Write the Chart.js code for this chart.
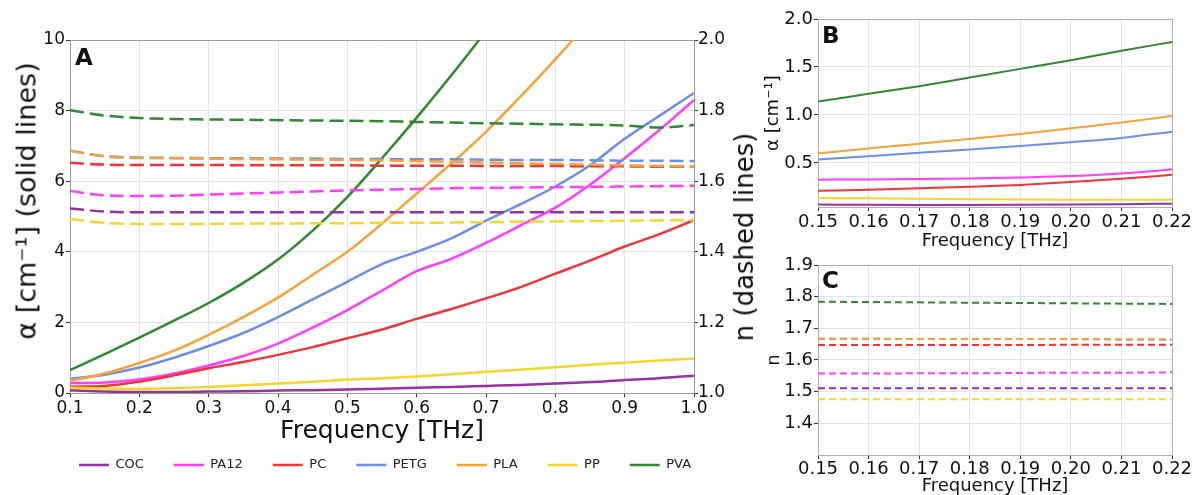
<!DOCTYPE html>
<html>
<head>
<meta charset="utf-8">
<script src="https://cdn.jsdelivr.net/npm/chart.js@4"></script>
<style>
  body { margin: 0; background: #fff; width: 1194px; height: 495px; overflow: hidden; position: relative; font-family: 'DejaVu Sans', sans-serif; color: #111; }
  canvas { position: absolute; }
  #chartA { left: 0; top: 0; }
  #chartB { left: 760px; top: 0; }
  #chartC { left: 760px; top: 250px; }
  .panel { position: absolute; font-weight: bold; font-size: 23px; line-height: 23px; }
  .vtitle { position: absolute; white-space: nowrap; transform: translate(-50%, -50%) rotate(-90deg); }
  #alphaTitle { left: 26px; top: 201px; font-size: 27px; }
  #nTitle { left: 744px; top: 237px; font-size: 26px; }
</style>
</head>
<body>
<canvas id="chartA" width="770" height="495"></canvas>
<canvas id="chartB" width="434" height="260"></canvas>
<canvas id="chartC" width="434" height="245"></canvas>
<div class="panel" style="left:75px;top:46px">A</div>
<div class="panel" style="left:822px;top:24px">B</div>
<div class="panel" style="left:822px;top:269px">C</div>
<div class="vtitle" id="alphaTitle">α [cm⁻¹] (solid lines)</div>
<div class="vtitle" id="nTitle">n (dashed lines)</div>
<script>
// materials and their colours
const materials = ['COC', 'PA12', 'PC', 'PETG', 'PLA', 'PP', 'PVA'];
const colors = ['#9a30a2', '#ff3cff', '#f23434', '#6a8fe8', '#f8a134', '#f8d52a', '#2e8a2e'];

// panel A: 0.1 - 1.0 THz
const freqA = [0.10, 0.15, 0.20, 0.25, 0.30, 0.35, 0.40, 0.45, 0.50, 0.55, 0.60, 0.65, 0.70, 0.75, 0.80, 0.85, 0.90, 0.95, 1.00];
const alphaCOC  = [0.08, 0.04, 0.03, 0.03, 0.04, 0.05, 0.07, 0.08, 0.10, 0.12, 0.15, 0.17, 0.20, 0.23, 0.27, 0.31, 0.37, 0.42, 0.49];
const alphaPA12 = [0.28, 0.30, 0.38, 0.55, 0.78, 1.05, 1.40, 1.85, 2.35, 2.90, 3.45, 3.80, 4.25, 4.75, 5.25, 5.90, 6.65, 7.45, 8.30];
const alphaPC   = [0.18, 0.20, 0.32, 0.50, 0.70, 0.88, 1.08, 1.30, 1.55, 1.80, 2.10, 2.38, 2.68, 3.00, 3.38, 3.75, 4.15, 4.50, 4.90];
const alphaPETG = [0.40, 0.52, 0.72, 1.00, 1.33, 1.70, 2.15, 2.65, 3.15, 3.65, 4.00, 4.38, 4.88, 5.35, 5.85, 6.45, 7.20, 7.85, 8.50];
const alphaPLA  = [0.35, 0.55, 0.85, 1.20, 1.65, 2.15, 2.70, 3.35, 4.00, 4.80, 5.65, 6.50, 7.40, 8.40, 9.45, 10.55];
const alphaPP   = [0.15, 0.13, 0.12, 0.14, 0.17, 0.22, 0.27, 0.32, 0.38, 0.42, 0.47, 0.53, 0.60, 0.66, 0.73, 0.80, 0.86, 0.92, 0.98];
const alphaPVA  = [0.65, 1.10, 1.57, 2.05, 2.55, 3.12, 3.78, 4.60, 5.55, 6.65, 7.80, 9.00, 10.25];

const nCOC  = [1.523, 1.514, 1.512, 1.512, 1.512, 1.512, 1.512, 1.512, 1.512, 1.512, 1.512, 1.512, 1.512, 1.512, 1.512, 1.512, 1.512, 1.512, 1.512];
const nPA12 = [1.572, 1.560, 1.558, 1.559, 1.562, 1.565, 1.568, 1.571, 1.574, 1.576, 1.578, 1.580, 1.581, 1.582, 1.583, 1.584, 1.585, 1.586, 1.587];
const nPC   = [1.652, 1.647, 1.646, 1.646, 1.646, 1.645, 1.645, 1.645, 1.645, 1.644, 1.644, 1.644, 1.643, 1.643, 1.643, 1.642, 1.642, 1.641, 1.641];
const nPETG = [1.686, 1.671, 1.667, 1.666, 1.665, 1.665, 1.664, 1.664, 1.663, 1.663, 1.662, 1.662, 1.661, 1.660, 1.660, 1.659, 1.658, 1.658, 1.657];
const nPLA  = [1.686, 1.670, 1.666, 1.665, 1.664, 1.663, 1.662, 1.661, 1.660, 1.659, 1.657, 1.655, 1.653, 1.651, 1.649, 1.647, 1.645, 1.643, 1.641];
const nPP   = [1.493, 1.482, 1.479, 1.479, 1.479, 1.480, 1.480, 1.481, 1.481, 1.482, 1.482, 1.483, 1.484, 1.485, 1.486, 1.487, 1.488, 1.489, 1.490];
const nPVA  = [1.801, 1.786, 1.779, 1.776, 1.775, 1.774, 1.773, 1.772, 1.771, 1.770, 1.768, 1.766, 1.764, 1.763, 1.761, 1.760, 1.758, 1.752, 1.759];

// panels B and C: 0.15 - 0.22 THz
const freqZoom = [0.15, 0.16, 0.17, 0.18, 0.19, 0.20, 0.21, 0.22];
const zoomAlphaCOC  = [0.065, 0.063, 0.062, 0.062, 0.063, 0.065, 0.069, 0.075];
const zoomAlphaPA12 = [0.325, 0.328, 0.332, 0.338, 0.348, 0.362, 0.390, 0.430];
const zoomAlphaPC   = [0.210, 0.220, 0.235, 0.250, 0.270, 0.300, 0.335, 0.375];
const zoomAlphaPETG = [0.535, 0.570, 0.605, 0.640, 0.675, 0.715, 0.760, 0.825];
const zoomAlphaPLA  = [0.600, 0.650, 0.700, 0.750, 0.800, 0.860, 0.920, 0.990];
const zoomAlphaPP   = [0.135, 0.130, 0.125, 0.122, 0.118, 0.116, 0.115, 0.115];
const zoomAlphaPVA  = [1.14, 1.22, 1.30, 1.39, 1.48, 1.57, 1.67, 1.76];

const zoomNCOC  = [1.511, 1.511, 1.511, 1.511, 1.511, 1.511, 1.511, 1.511];
const zoomNPA12 = [1.557, 1.557, 1.558, 1.558, 1.559, 1.560, 1.560, 1.561];
const zoomNPC   = [1.647, 1.647, 1.647, 1.647, 1.647, 1.648, 1.648, 1.648];
const zoomNPETG = [1.667, 1.667, 1.666, 1.666, 1.666, 1.666, 1.665, 1.665];
const zoomNPLA  = [1.667, 1.667, 1.666, 1.666, 1.666, 1.666, 1.665, 1.665];
const zoomNPP   = [1.476, 1.476, 1.476, 1.476, 1.476, 1.476, 1.476, 1.476];
const zoomNPVA  = [1.784, 1.783, 1.782, 1.781, 1.780, 1.779, 1.778, 1.777];

// tick values
const ticksFreqA = [0.1, 0.2, 0.3, 0.4, 0.5, 0.6, 0.7, 0.8, 0.9, 1.0];
const ticksAlphaA = [0, 2, 4, 6, 8, 10];
const ticksNA = [1.0, 1.2, 1.4, 1.6, 1.8, 2.0];
const ticksFreqZoom = [0.15, 0.16, 0.17, 0.18, 0.19, 0.20, 0.21, 0.22];
const ticksAlphaB = [0.5, 1.0, 1.5, 2.0];
const ticksNC = [1.4, 1.5, 1.6, 1.7, 1.8, 1.9];

const alphaA = [alphaCOC, alphaPA12, alphaPC, alphaPETG, alphaPLA, alphaPP, alphaPVA];
const nA = [nCOC, nPA12, nPC, nPETG, nPLA, nPP, nPVA];
const alphaB = [zoomAlphaCOC, zoomAlphaPA12, zoomAlphaPC, zoomAlphaPETG, zoomAlphaPLA, zoomAlphaPP, zoomAlphaPVA];
const nC = [zoomNCOC, zoomNPA12, zoomNPC, zoomNPETG, zoomNPLA, zoomNPP, zoomNPVA];

Chart.defaults.font.family = "'DejaVu Sans', sans-serif";
Chart.defaults.color = '#111';
Chart.defaults.animation = false;

const gridColor = '#dde4ec';
const tickColor = '#333';

function points(xs, ys) {
  return ys.map((y, i) => ({ x: xs[i], y: y }));
}
function setTicks(values) {
  return axis => { axis.ticks = values.map(v => ({ value: v })); };
}
// an empty axis that only draws a frame line
function frameAxis(position, min, max, color) {
  return {
    type: 'linear', position: position, min: min, max: max,
    ticks: { display: false },
    grid: { drawOnChartArea: false, drawTicks: false },
    border: { color: color },
    afterFit: axis => { if (axis.isHorizontal()) axis.height = 0; else axis.width = position === 'right' ? 22 : 0; }
  };
}

// Panel A
const datasetsA = [];
materials.forEach((m, i) => {
  datasetsA.push({
    label: m, data: points(freqA, alphaA[i]), yAxisID: 'y',
    borderColor: colors[i], backgroundColor: colors[i], borderWidth: 2.5,
    pointRadius: 0, cubicInterpolationMode: 'monotone', order: 100 - i
  });
});
materials.forEach((m, i) => {
  datasetsA.push({
    label: m + ' n', data: points(freqA, nA[i]), yAxisID: 'y1',
    borderColor: colors[i], backgroundColor: colors[i], borderWidth: 2.5, borderDash: [14, 6],
    pointRadius: 0, cubicInterpolationMode: 'monotone', order: 50 - i
  });
});

new Chart(document.getElementById('chartA'), {
  type: 'line',
  data: { datasets: datasetsA },
  options: {
    responsive: false, devicePixelRatio: 1,
    layout: { padding: { top: 40, bottom: 13.5, left: 0, right: 0 } },
    plugins: {
      tooltip: { enabled: false },
      legend: {
        position: 'bottom',
        labels: {
          usePointStyle: true, pointStyle: 'line', pointStyleWidth: 30,
          font: { size: 13 }, color: '#222', padding: 30,
          filter: item => item.datasetIndex < materials.length,
          sort: (a, b) => a.datasetIndex - b.datasetIndex
        }
      }
    },
    scales: {
      x: {
        type: 'linear', position: 'bottom', min: 0.1, max: 1.0,
        afterBuildTicks: setTicks(ticksFreqA),
        afterFit: axis => { axis.height = 35.5; },
        ticks: { callback: v => v.toFixed(1), font: { size: 17 }, padding: 1, maxRotation: 0, autoSkip: false },
        grid: { color: gridColor, tickColor: tickColor, tickLength: 4 },
        border: { color: '#999' },
        title: { display: true, text: 'Frequency [THz]', font: { size: 25 }, padding: { top: 0, bottom: -17.5 } }
      },
      xTop: frameAxis('top', 0.1, 1.0, '#999'),
      y: {
        type: 'linear', position: 'left', min: 0, max: 10,
        afterBuildTicks: setTicks(ticksAlphaA),
        afterFit: axis => { axis.width = 70; },
        ticks: { font: { size: 17 }, padding: 1 },
        grid: { color: gridColor, tickColor: tickColor, tickLength: 4 },
        border: { color: '#999' }
      },
      y1: {
        type: 'linear', position: 'right', min: 1.0, max: 2.0,
        afterBuildTicks: setTicks(ticksNA),
        afterFit: axis => { axis.width = 76; },
        ticks: { callback: v => v.toFixed(1), font: { size: 17 }, padding: 0 },
        grid: { drawOnChartArea: false, tickColor: tickColor, tickLength: 4 },
        border: { color: '#999' }
      }
    }
  }
});

// Panel B (absorption, zoom)
const datasetsB = materials.map((m, i) => ({
  label: m, data: points(freqZoom, alphaB[i]),
  borderColor: colors[i], borderWidth: 2, pointRadius: 0,
  cubicInterpolationMode: 'monotone', order: -i
}));

new Chart(document.getElementById('chartB'), {
  type: 'line',
  data: { datasets: datasetsB },
  options: {
    responsive: false, devicePixelRatio: 1,
    layout: { padding: { top: 19, bottom: 10, left: 0, right: 0 } },
    plugins: { legend: { display: false }, tooltip: { enabled: false } },
    scales: {
      x: {
        type: 'linear', position: 'bottom', min: 0.15, max: 0.22,
        afterBuildTicks: setTicks(ticksFreqZoom),
        afterFit: axis => { axis.height = 43; },
        ticks: { callback: v => v.toFixed(2), font: { size: 18 }, padding: 1, maxRotation: 0, autoSkip: false },
        grid: { color: gridColor, tickColor: tickColor, tickLength: 4 },
        border: { color: '#b0b0b0' },
        title: { display: true, text: 'Frequency [THz]', font: { size: 18 }, padding: { top: 0, bottom: -2 } }
      },
      xTop: frameAxis('top', 0.15, 0.22, '#b0b0b0'),
      y: {
        type: 'linear', position: 'left', min: 0.04, max: 2.0,
        afterBuildTicks: setTicks(ticksAlphaB),
        afterFit: axis => { axis.width = 58; },
        ticks: { callback: v => v.toFixed(1), font: { size: 18 }, padding: 1 },
        grid: { color: gridColor, tickColor: tickColor, tickLength: 4 },
        border: { color: '#b0b0b0' },
        title: { display: true, text: 'α [cm⁻¹]', font: { size: 18 }, padding: { top: 3, bottom: 0 } }
      },
      yRight: frameAxis('right', 0.04, 2.0, '#b0b0b0')
    }
  }
});

// Panel C (refractive index, zoom)
const datasetsC = materials.map((m, i) => ({
  label: m, data: points(freqZoom, nC[i]),
  borderColor: colors[i], borderWidth: 2, borderDash: [7, 4], pointRadius: 0,
  cubicInterpolationMode: 'monotone', order: -i
}));

new Chart(document.getElementById('chartC'), {
  type: 'line',
  data: { datasets: datasetsC },
  options: {
    responsive: false, devicePixelRatio: 1,
    layout: { padding: { top: 15, bottom: 0, left: 0, right: 0 } },
    plugins: { legend: { display: false }, tooltip: { enabled: false } },
    scales: {
      x: {
        type: 'linear', position: 'bottom', min: 0.15, max: 0.22,
        afterBuildTicks: setTicks(ticksFreqZoom),
        afterFit: axis => { axis.height = 40; },
        ticks: { callback: v => v.toFixed(2), font: { size: 18 }, padding: 0, maxRotation: 0, autoSkip: false },
        grid: { color: gridColor, tickColor: tickColor, tickLength: 4 },
        border: { color: '#b0b0b0' },
        title: { display: true, text: 'Frequency [THz]', font: { size: 18 }, padding: { top: 0, bottom: -2 } }
      },
      xTop: frameAxis('top', 0.15, 0.22, '#b0b0b0'),
      y: {
        type: 'linear', position: 'left', min: 1.3, max: 1.9,
        afterBuildTicks: setTicks(ticksNC),
        afterFit: axis => { axis.width = 58; },
        ticks: { callback: v => v.toFixed(1), font: { size: 18 }, padding: 1 },
        grid: { color: gridColor, tickColor: tickColor, tickLength: 4 },
        border: { color: '#b0b0b0' },
        title: { display: true, text: 'n', font: { size: 18 }, padding: { top: 4, bottom: 0 } }
      },
      yRight: frameAxis('right', 1.3, 1.9, '#b0b0b0')
    }
  }
});
</script>
</body>
</html>
